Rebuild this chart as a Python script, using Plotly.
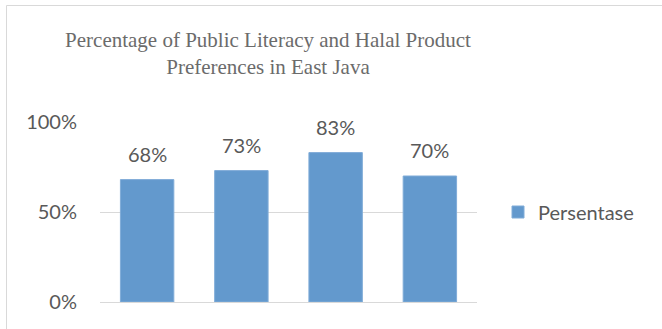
import plotly.graph_objects as go

# Data
categories = ["1", "2", "3", "4"]
values = [0.68, 0.73, 0.83, 0.70]
series_name = "Persentase"
title_text = "Percentage of Public Literacy and Halal Product<br>Preferences in East Java"
tick_vals = [0, 0.5, 1.0]
tick_text = ["0%", "50%", "100%"]

W, H = 662, 329
ML, MR, MT, MB = 100, 185, 122, 27
PW = W - ML - MR
PH = H - MT - MB

BAR = "#6399cd"
TXT = "#595959"
GRID = "#d9d9d9"

fig = go.Figure()
fig.add_trace(go.Bar(
    x=categories, y=values, name=series_name,
    marker=dict(color=BAR, line=dict(color="#80acd8", width=1)),
    showlegend=True,
))

# data labels (x given as category index on the category axis)
for i, v in enumerate(values):
    fig.add_annotation(
        x=i, y=v, xref="x", yref="y",
        text=f"{round(v*100)}%",
        showarrow=False, yanchor="bottom", yshift=12,
        font=dict(family="Lato", size=20, color=TXT),
    )

def px_to_paper_x(px):
    return (px - ML) / PW

def px_to_paper_y(py):
    return (H - MB - py) / PH

# chart border (outer frame, extends beyond visible area right/bottom)
fig.add_shape(
    type="rect", xref="paper", yref="paper",
    x0=px_to_paper_x(6.5), x1=px_to_paper_x(W + 20),
    y0=px_to_paper_y(H + 20), y1=px_to_paper_y(5.5),
    line=dict(color=GRID, width=1), fillcolor="rgba(0,0,0,0)", layer="below",
)

fig.update_layout(
    width=W, height=H,
    margin=dict(l=ML, r=MR, t=MT, b=MB, autoexpand=False),
    paper_bgcolor="white", plot_bgcolor="white",
    bargap=0.433,
    title=dict(
        text=title_text, xref="paper", x=px_to_paper_x(268), xanchor="center",
        yref="container", y=1 - 47 / H, yanchor="top",
        font=dict(family="Liberation Serif", size=21, color="#6b6b6b"),
    ),
    xaxis=dict(type="category", range=[-0.5, len(categories) - 0.5],
               showticklabels=False, showgrid=False, zeroline=False,
               showline=False, ticks=""),
    yaxis=dict(range=[0, 1], tickvals=tick_vals, ticktext=tick_text,
               showgrid=True, gridcolor=GRID, gridwidth=1,
               zeroline=True, zerolinecolor=GRID, zerolinewidth=1.3,
               showline=False, ticks="", ticklabelstandoff=22,
               tickfont=dict(family="Lato", size=20, color=TXT)),
    legend=dict(x=px_to_paper_x(498), xanchor="left", y=0.5, yanchor="middle",
                font=dict(family="Lato", size=20, color=TXT),
                bgcolor="rgba(0,0,0,0)"),
)

fig.write_html("out.html")
